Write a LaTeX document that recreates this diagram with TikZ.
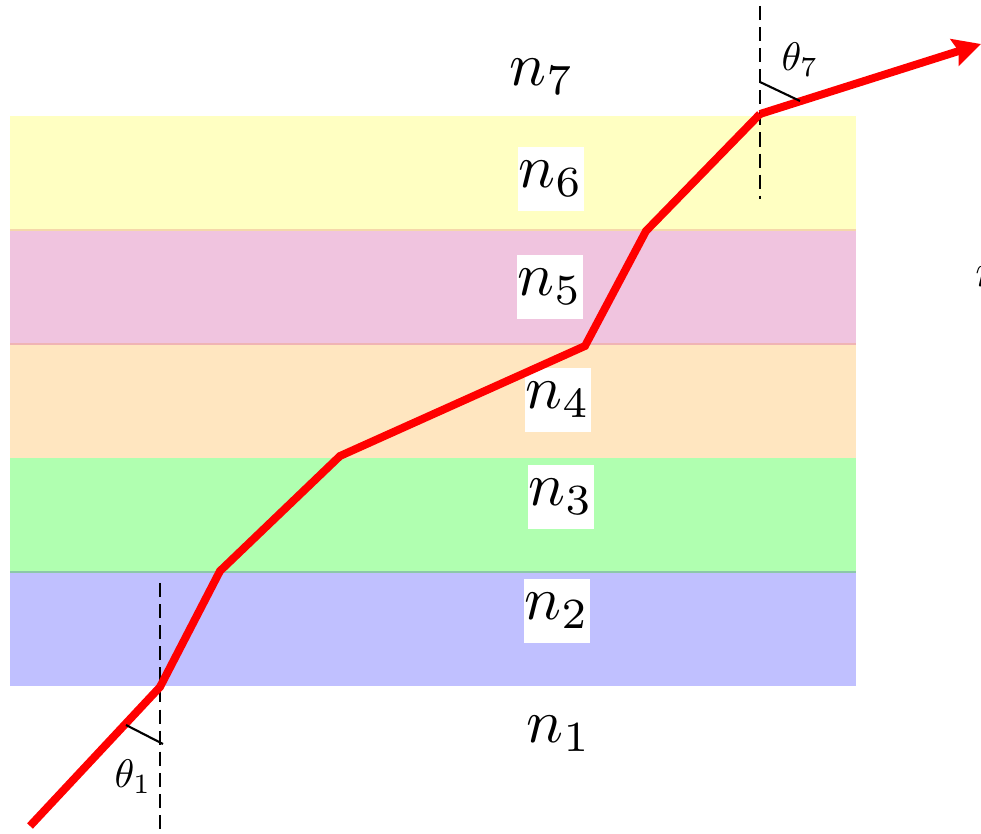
\documentclass[tikz,border=0pt]{standalone}
\usetikzlibrary{arrows.meta}
\definecolor{lyellow}{RGB}{255,255,194}
\definecolor{lpink}{RGB}{240,196,223}
\definecolor{lorange}{RGB}{255,230,192}
\definecolor{lgreen}{RGB}{176,255,176}
\definecolor{lblue}{RGB}{192,192,255}
\newcommand{\bigidx}[1]{\scalebox{3.5}{$#1$}}
\newcommand{\angtxt}[1]{\scalebox{2.27}{$#1$}}
\tikzset{
  idx/.style={inner xsep=0.5pt, inner ysep=8pt},
  idxbox/.style={idx, fill=white},
  ang/.style={inner sep=1pt},
  normal/.style={black, line width=1.1pt, dash pattern=on 8pt off 4pt},
  angmark/.style={black, line width=1.2pt},
  ray/.style={red, line width=4.5pt},
}
\begin{document}
\begin{tikzpicture}[x=0.02cm,y=-0.02cm]
\useasboundingbox (0,0) rectangle (981,834);
% layers
\fill[lyellow] (10,116) rectangle (856,230);
\fill[lpink]   (10,230) rectangle (856,344);
\fill[lorange] (10,344) rectangle (856,458);
\fill[lgreen]  (10,458) rectangle (856,572);
\fill[lblue]   (10,572) rectangle (856,686);
\draw[line width=0.6pt, color={rgb,255:red,245;green,215;blue,170}] (10,230) -- (856,230);
\draw[line width=0.6pt, color={rgb,255:red,240;green,180;blue,180}] (10,344) -- (856,344);
\draw[line width=0.8pt, color={rgb,255:red,140;green,200;blue,170}] (10,572) -- (856,572);
% labels
\node[idx]    (n7) at (542,77)  {\bigidx{n_7}};
\node[idxbox] (n6) at (551,179) {\bigidx{n_6}};
\node[idxbox] (n5) at (550,287) {\bigidx{n_5}};
\node[idxbox] (n4) at (558,400) {\bigidx{n_4}};
\node[idxbox] (n3) at (561,497) {\bigidx{n_3}};
\node[idxbox] (n2) at (557,611) {\bigidx{n_2}};
\node[idx]    (n1) at (559,734) {\bigidx{n_1}};
\node[anchor=base west, inner sep=0pt] (n8) at (975,287) {\scalebox{2.6}{$n$}};
% normals
\coordinate (t1) at (160,583);
\coordinate (b1) at (160,834);
\coordinate (t7) at (760,6);
\coordinate (b7) at (760,199);
\draw[normal] (t1) -- (b1);
\draw[normal] (t7) -- (b7);
% ray
\coordinate (p0) at (30,826);
\coordinate (p1) at (160,687);
\coordinate (p2) at (220,571);
\coordinate (p3) at (340,456);
\coordinate (p4) at (585,346);
\coordinate (p5) at (646,231);
\coordinate (p6) at (760,114);
\coordinate (p7) at (981,44);
\draw[ray] (p0) -- (p1) -- (p2) -- (p3) -- (p4) -- (p5) -- (p6);
\draw[ray, -{Stealth[length=0.55cm, width=0.55cm, inset=0.08cm]}] (p6) -- (p7);
% angle marks
\coordinate (a1n) at (163,744);
\coordinate (a1r) at (126,725);
\coordinate (a7n) at (760,82);
\coordinate (a7r) at (800,101);
\draw[angmark] (a1r) -- (a1n);
\draw[angmark] (a7n) -- (a7r);
\node[ang] (th1) at (133,777) {\angtxt{\theta_1}};
\node[ang] (th7) at (800,60) {\angtxt{\theta_7}};
\end{tikzpicture}
\end{document}
